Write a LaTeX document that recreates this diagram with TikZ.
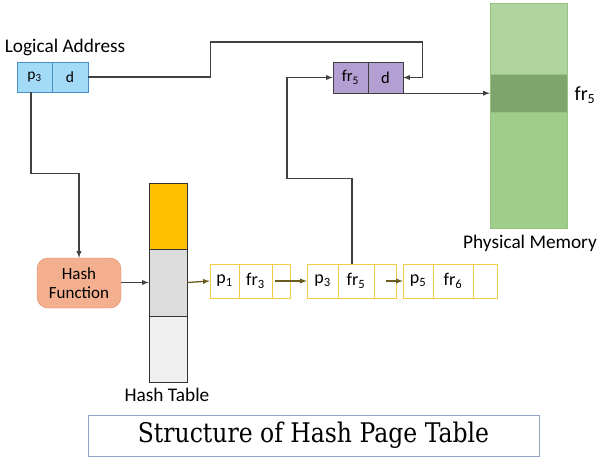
\documentclass[tikz,border=0pt]{standalone}
\usepackage{fontspec}
\setmainfont{Carlito}
\newfontfamily\titlefont{DejaVu Serif}

\definecolor{lafill}{HTML}{A3DAF5}
\definecolor{ladraw}{HTML}{4A8FC9}
\definecolor{frfill}{HTML}{B49FD3}
\definecolor{memlight}{HTML}{B0D49E}
\definecolor{memlower}{HTML}{A0CD8A}
\definecolor{memdark}{HTML}{7EA56B}
\definecolor{memdraw}{HTML}{96C282}
\definecolor{hashfill}{HTML}{F4B08E}
\definecolor{hashdraw}{HTML}{E0886A}
\definecolor{htyellow}{HTML}{FFC000}
\definecolor{htgray}{HTML}{DCDCDC}
\definecolor{htlight}{HTML}{EFEFEF}
\definecolor{chaindraw}{HTML}{F5CC45}
\definecolor{chainarrow}{HTML}{6B5A1E}
\definecolor{linegray}{HTML}{404040}
\definecolor{titledraw}{HTML}{8FA5C4}

\tikzset{
  txt/.style={font=\fontsize{19.3}{22}\selectfont},
  lacell/.style={draw=ladraw, fill=lafill, minimum height=30pt, inner sep=0pt, font=\fontsize{15.5}{17}\selectfont},
  frcell/.style={draw=linegray, fill=frfill, minimum height=31pt, minimum width=35pt, inner sep=0pt, font=\fontsize{16.5}{18}\selectfont},
  memcell/.style={draw=memdraw, fill=memlight, minimum width=77pt, inner sep=0pt},
  htcell/.style={draw=black!80, minimum width=38pt, inner sep=0pt},
  chaincell/.style={draw=chaindraw, fill=white, minimum height=34pt, inner sep=0pt, font=\fontsize{18}{20}\selectfont},
  link/.style={->, draw=linegray, line width=1.3pt},
  chainlink/.style={->, draw=chainarrow, line width=1.3pt},
}

\begin{document}
\begin{tikzpicture}[x=1pt, y=-1pt, >=latex]
  \useasboundingbox (0,0) rectangle (600,461);

  % Logical address
  \node[txt] (lalabel) at (65,47) {Logical Address};
  \node[lacell, minimum width=35pt] (lap) at (34.5,77) {p\textsubscript{3}};
  \node[lacell, minimum width=36pt] (lad) at (70,77) {d};

  % Physical address
  \node[frcell] (frp) at (350.5,77.5) {fr\textsubscript{5}};
  \node[frcell] (frd) at (385.5,77.5) {d};

  % Physical memory
  \node[memcell, minimum height=71pt] (memtop) at (528.5,38.5) {};
  \node[memcell, fill=memdark, minimum height=38pt] (memframe) at (528.5,93) {};
  \node[memcell, fill=memlower, minimum height=116pt] (membot) at (528.5,170) {};
  \node[font=\fontsize{20}{22}\selectfont] (memlabel) at (585,95) {fr\textsubscript{5}};
  \node[txt] (physlabel) at (530,243) {Physical Memory};

  % Hash function
  \node[draw=hashdraw, fill=hashfill, rounded corners=11pt, minimum width=84pt, minimum height=50pt,
        align=center, font=\fontsize{17}{19}\selectfont] (hash) at (79,283) {Hash\\Function};

  % Hash table
  \node[htcell, fill=htyellow, minimum height=66pt] (ht1) at (168,216) {};
  \node[htcell, fill=htgray, minimum height=67pt] (ht2) at (168,282.5) {};
  \node[htcell, fill=htlight, minimum height=66pt] (ht3) at (168,349) {};
  \node[txt] (htlabel) at (167,395) {Hash Table};

  % Chain of entries
  \node[chaincell, minimum width=29pt] (c1p) at (224.5,281) {p\textsubscript{1}};
  \node[chaincell, minimum width=33pt] (c1f) at (255.5,281) {fr\textsubscript{3}};
  \node[chaincell, minimum width=18pt] (c1n) at (281,281) {};
  \node[chaincell, minimum width=31pt] (c2p) at (322.5,281) {p\textsubscript{3}};
  \node[chaincell, minimum width=36pt] (c2f) at (356,281) {fr\textsubscript{5}};
  \node[chaincell, minimum width=22pt] (c2n) at (385,281) {};
  \node[chaincell, minimum width=30pt] (c3p) at (418,281) {p\textsubscript{5}};
  \node[chaincell, minimum width=40pt] (c3f) at (453,281) {fr\textsubscript{6}};
  \node[chaincell, minimum width=24pt] (c3n) at (485,281) {};

  % Connectors
  \draw[link] (lad.east) -- ++(122,0) -- ++(0,-35) -| ([xshift=19pt]frd.east) -- (frd.east);
  \draw[link] ([xshift=-3.5pt]lap.south) -- ++(0,81) -| (hash.north);
  \draw[link] (hash.east |- ht2.west) -- (ht2.west);
  \draw[link] ([xshift=-4pt]c2f.north) -- ++(0,-85) -- ++(-65,0) |- (frp.west);
  \draw[link] (frd.south east) -- (frd.south east -| memframe.west);
  \draw[chainlink] (ht2.east) -- (c1p.west);
  \draw[chainlink] ([xshift=3pt]c1n.west) -- (c2p.west);
  \draw[chainlink] ([xshift=12pt]c2n.west) -- (c3p.west);

  % Title
  \node[draw=titledraw, minimum width=451pt, minimum height=41pt,
        font=\titlefont\fontsize{23.5}{26}\selectfont] (title) at (313.5,435.5)
        {\scalebox{1}[1.15]{Structure of Hash Page Table}};
\end{tikzpicture}
\end{document}
